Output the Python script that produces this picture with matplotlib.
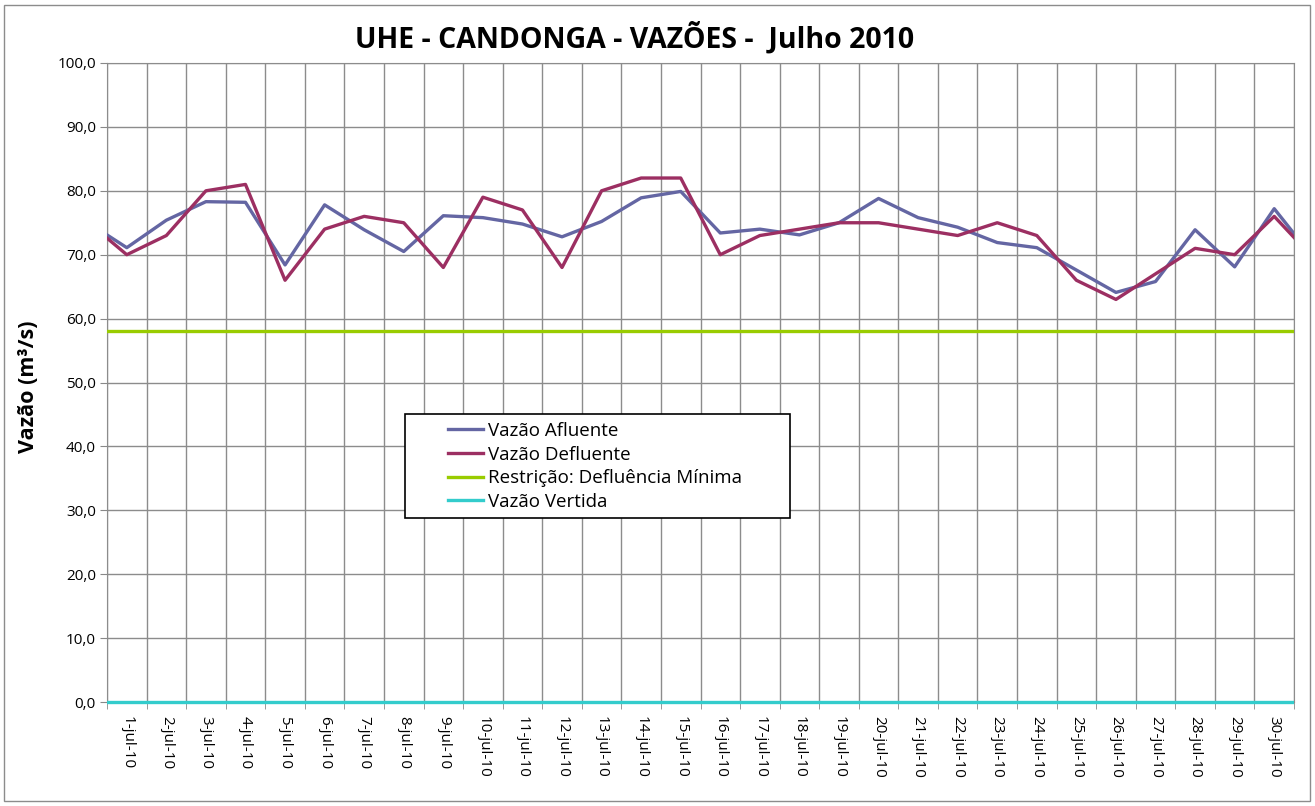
import numpy as np
import matplotlib.pyplot as plt
from matplotlib.patches import Rectangle

# days: 30-jun (edge), 1-jul ... 30-jul, 31-jul (edge); axis shows 1..30
dias = ['30-jun-10'] + ['%d-jul-10' % d for d in range(1, 32)]
afluente = [75.1, 71.1, 75.4, 78.3, 78.2, 68.4, 77.8, 73.9, 70.5, 76.1,
            75.8, 74.8, 72.8, 75.2, 78.9, 79.9, 73.4, 74.0, 73.1, 75.0,
            78.8, 75.8, 74.3, 71.9, 71.1, 67.6, 64.1, 65.8, 73.9, 68.1,
            77.2, 69.4]
defluente = [75.2, 70.0, 73.0, 80.0, 81.0, 66.0, 74.0, 76.0, 75.0, 68.0,
             79.0, 77.0, 68.0, 80.0, 82.0, 82.0, 70.0, 73.0, 74.0, 75.0,
             75.0, 74.0, 73.0, 75.0, 73.0, 66.0, 63.0, 67.0, 71.0, 70.0,
             76.0, 69.4]
restricao = [58.0] * len(dias)
vertida = [0.0] * len(dias)

yticks = np.arange(0, 101, 10)

plt.rcParams['font.family'] = ['Open Sans', 'DejaVu Sans']

fig = plt.figure(figsize=(13.15, 8.06), dpi=100)
ax = fig.add_axes([107/1315, 1 - 702/806, (1294 - 107)/1315, (702 - 63)/806])

x = np.arange(len(dias))
l1, = ax.plot(x, afluente, color='#6466a3', lw=2.4, label='Vazão Afluente', zorder=3)
l2, = ax.plot(x, defluente, color='#9c2f62', lw=2.4, label='Vazão Defluente', zorder=4)
l3, = ax.plot(x, restricao, color='#99cc00', lw=2.4, label='Restrição: Defluência Mínima', zorder=3)
l4, = ax.plot(x, vertida, color='#33cccc', lw=2.4, label='Vazão Vertida', zorder=3)
# let the zero line show its full width below the axis
clip = Rectangle((0, -0.01), 1, 1.02, transform=ax.transAxes, visible=False)
ax.add_patch(clip)
l4.set_clip_path(clip)

ax.set_xlim(0.5, 30.5)
ax.set_ylim(0, 100)
ax.set_xticks(x[1:31])
ax.set_xticklabels(dias[1:31], rotation=270, fontsize=11)
ax.set_xticks(np.arange(0.5, 31, 1), minor=True)
ax.tick_params(axis='x', which='major', length=0, pad=10)
ax.tick_params(axis='x', which='minor', length=5, color='#888888', direction='out')
ax.set_yticks(yticks)
ax.yaxis.set_major_formatter(plt.FuncFormatter(lambda v, p: ('%.1f' % v).replace('.', ',')))
ax.tick_params(axis='y', length=5, color='#888888', pad=3, labelsize=11)
ax.grid(True, which='minor', axis='x', color='#8c8c8c', lw=1)
ax.grid(True, which='major', axis='y', color='#8c8c8c', lw=1)
ax.set_axisbelow(True)
for s in ax.spines.values():
    s.set_color('#8c8c8c')

fig.text(635/1315, 1 - 38/806, 'UHE - CANDONGA - VAZÕES -  Julho 2010',
         ha='center', va='center', fontsize=20.5, fontweight='bold')
fig.text(28/1315, 1 - 387/806, 'Vazão (m³/s)', rotation=90,
         ha='center', va='center', fontsize=15.5, fontweight='bold')

# legend box
fig.patches.append(Rectangle((405/1315, 1 - 518/806), 385/1315, 104/806,
                             transform=fig.transFigure, facecolor='white',
                             edgecolor='black', lw=1.2, zorder=4))
fig.legend(handles=[l1, l2, l3, l4], loc='upper left', frameon=False,
           bbox_to_anchor=(448/1315, 1 - 422/806), borderpad=0, borderaxespad=0,
           fontsize=13.5, handlelength=1.85, handletextpad=0.3, labelspacing=0.3)

# outer border
fig.patches.append(Rectangle((4/1315, 1 - 801/806), 1306/1315, 796/806,
                             transform=fig.transFigure, fill=False,
                             edgecolor='#8c8c8c', lw=1, zorder=0))

fig.savefig('out.png', dpi=100)
